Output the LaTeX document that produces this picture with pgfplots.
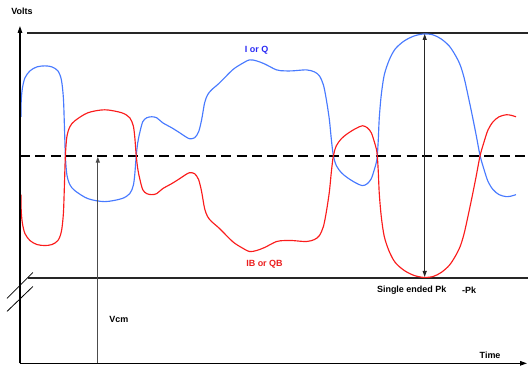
\documentclass[border=0pt]{standalone}
\usepackage{pgfplots}
\pgfplotsset{compat=1.18}
\usetikzlibrary{arrows.meta}
\usepackage{fontspec}
\setmainfont{Liberation Sans}
\definecolor{curveblue}{RGB}{72,122,255}
\definecolor{curvered}{RGB}{250,28,28}
\definecolor{textblue}{RGB}{40,40,245}
\definecolor{textred}{RGB}{235,30,30}
\begin{document}
\begin{tikzpicture}
\begin{axis}[scale only axis, width=529pt, height=369pt,
  xmin=0, xmax=529, ymin=0, ymax=369, y dir=reverse,
  hide axis, clip=false]
\path (rel axis cs:0,0) (rel axis cs:1,1);
% reference lines
\addplot[black!85, line width=2pt] coordinates {(27,33) (529,33)};
\addplot[black!85, line width=2pt] coordinates {(28,278.5) (529,278.5)};
\addplot[black, line width=1.9pt, dash pattern=on 10pt off 5.5pt] coordinates {(20,156) (529,156)};
% blue I or Q
\addplot[curveblue, line width=1.15pt, smooth] coordinates {
(21,117) (21.3,100) (22.5,88) (25,78) (30,71) (37,67) (45,66) (52,67) (58,71) (61.5,80) (63.5,98) (64.5,125) (65.5,156) (67,175) (70,185) (75,191) (88,199) (105,202) (122,199) (130,194) (133.5,186) (135,175) (136.5,156) (138,143) (140,133) (143,122) (147,118) (152,117) (157,118) (163,123) (172,128) (180,133) (186,137) (190,139) (195,138) (199,132) (202,120) (205,103) (208,95) (212,90) (220,83) (233,70) (242,64) (250,60) (257,61) (265,64) (277,70) (285,71) (293,71) (307,70) (315,72) (320,76) (324,85) (327,100) (330,120) (332,140) (334,156) (337,166) (342,173) (348,178) (356,183) (363,186) (368,184) (372,179) (375,170) (377,163) (378,156) (379,140) (380,118) (382,95) (385,75) (390,60) (396,49) (405,41) (415,36) (425,34) (434,35) (442,39) (450,46) (456,55) (461,65) (465,78) (469,96) (473,115) (477,135) (481,156) (485,170) (489,182) (494,190) (500,195) (507,197) (512,196.5) (517,195)};
% red IB or QB
\addplot[curvered, line width=1.15pt, smooth] coordinates {
(21,195) (21.3,212) (22.5,224) (25,234) (30,241) (37,245) (45,246) (52,245) (58,241) (61.5,232) (63.5,214) (64.5,187) (65.5,156) (67,137) (70,127) (75,121) (88,113) (105,110) (122,113) (130,118) (133.5,126) (135,137) (136.5,156) (138,169) (140,179) (143,190) (147,194) (152,195) (157,194) (163,189) (172,184) (180,179) (186,175) (190,173) (195,174) (199,180) (202,192) (205,209) (208,217) (212,222) (220,229) (233,242) (242,248) (250,252) (257,251) (265,248) (277,242) (285,241) (293,241) (307,242) (315,240) (320,236) (324,227) (327,212) (330,192) (332,172) (334,156) (337,146) (342,139) (348,134) (356,129) (363,126) (368,128) (372,133) (375,142) (377,149) (378,156) (379,172) (380,194) (382,217) (385,237) (390,252) (396,263) (405,271) (415,276) (425,278) (434,277) (442,273) (450,266) (456,257) (461,247) (465,234) (469,216) (473,197) (477,177) (481,156) (485,142) (489,130) (494,122) (500,117) (507,115) (512,115.5) (517,117)};
% axes
\addplot[black, line width=1.3pt, -{Triangle[length=7pt,width=4.5pt]}] coordinates {(20,364) (20,26)};
\addplot[black, line width=1.3pt, -{Triangle[length=7pt,width=4.5pt]}] coordinates {(20,364) (528,364)};
% break mark
\addplot[black, line width=0.8pt] coordinates {(7,299) (33,273)};
\addplot[black, line width=0.8pt] coordinates {(7,312) (33,287)};
% Vcm arrow
\addplot[black!70, line width=1.3pt, -{Triangle[length=6pt,width=4pt]}] coordinates {(98,364) (98,157)};
% Pk-Pk arrow
\addplot[black!85, line width=1pt, {Triangle[length=6pt,width=4pt]}-{Triangle[length=6pt,width=4pt]}] coordinates {(425.5,34) (425.5,277.5)};
% labels
\node[font=\fontsize{9}{11}\selectfont\bfseries] at (axis cs:22,11) {Volts};
\node[font=\fontsize{9}{11}\selectfont\bfseries] at (axis cs:491,356) {Time};
\node[font=\fontsize{9}{11}\selectfont\bfseries] at (axis cs:119,320) {Vcm};
\node[font=\fontsize{9}{11}\selectfont\bfseries] at (axis cs:412.5,291) {Single ended Pk};
\node[font=\fontsize{9}{11}\selectfont\bfseries] at (axis cs:470,291) {-Pk};
\node[font=\fontsize{9}{11}\selectfont\bfseries, text=textblue] at (axis cs:257,50) {I or Q};
\node[font=\fontsize{9}{11}\selectfont\bfseries, text=textred] at (axis cs:265,265) {IB or QB};
\end{axis}
\end{tikzpicture}
\end{document}
